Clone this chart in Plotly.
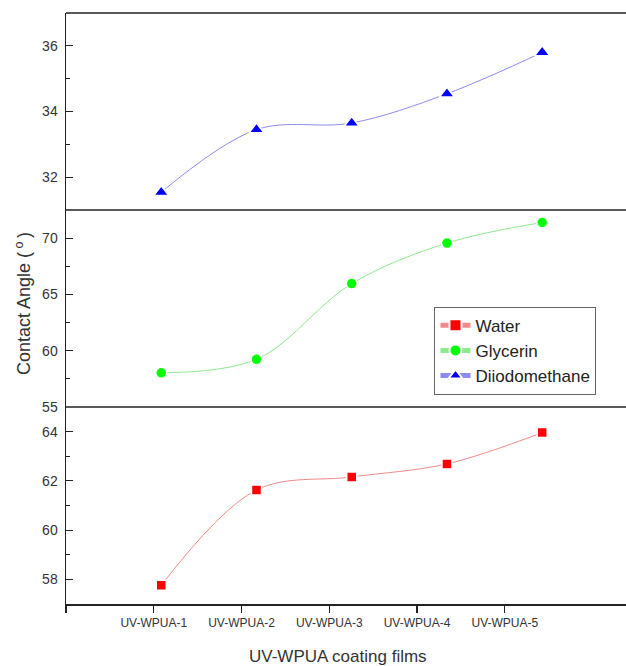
import plotly.graph_objects as go

categories = ["UV-WPUA-1", "UV-WPUA-2", "UV-WPUA-3", "UV-WPUA-4", "UV-WPUA-5"]
sample_index = [1, 2, 3, 4, 5]
water = [57.76, 61.63, 62.16, 62.69, 63.96]
glycerin = [58.04, 59.24, 65.96, 69.56, 71.39]
diiodomethane = [31.54, 33.45, 33.65, 34.54, 35.80]

# tick labels in the source are placed on a slightly compressed scale
tick_scale = 0.9215
tickvals = [0] + [i * tick_scale for i in sample_index]
ticktext = [" "] + categories

FONT = "Liberation Sans, Arial, sans-serif"
TXT = "#333333"

fig = go.Figure()
common_marker_line = dict(color="white", width=1.5)
fig.add_trace(go.Scatter(x=sample_index, y=water, name="Water", yaxis="y",
                         mode="lines+markers", line=dict(color="#F08A8A", width=1, shape="spline"),
                         marker=dict(symbol="square", size=10, color="#FF0000", line=common_marker_line)))
fig.add_trace(go.Scatter(x=sample_index, y=glycerin, name="Glycerin", yaxis="y2",
                         mode="lines+markers", line=dict(color="#8FE88F", width=1, shape="spline"),
                         marker=dict(symbol="circle", size=11, color="#00FF00", line=common_marker_line)))
fig.add_trace(go.Scatter(x=sample_index, y=diiodomethane, name="Diiodomethane", yaxis="y3",
                         mode="lines+markers", line=dict(color="#8C8CF0", width=1, shape="spline"),
                         marker=dict(symbol="triangle-up", size=13, color="#0000FF", line=common_marker_line)))

def yax(domain, rng, dtick, minor_dtick):
    return dict(domain=domain, range=rng, dtick=dtick, tick0=0, ticks="inside", ticklen=7,
                tickwidth=1.2, tickcolor="#222", showgrid=False, zeroline=False,
                showline=True, mirror=False, linecolor="#222", linewidth=1.5,
                ticklabelstandoff=4,
                tickfont=dict(family=FONT, size=14, color=TXT),
                minor=dict(dtick=minor_dtick, tick0=0, ticks="inside", ticklen=4, tickcolor="#222"),
                anchor="x", side="left", fixedrange=True)

fig.update_layout(
    width=626, height=666,
    margin=dict(l=66, r=0, t=13, b=62),
    paper_bgcolor="white", plot_bgcolor="white",
    font=dict(family=FONT, color=TXT),
    dragmode=False,
    xaxis=dict(range=[0, 5.88], tickvals=tickvals, ticktext=ticktext, ticks="outside",
               ticklen=7, tickwidth=1.2, tickcolor="#222", showgrid=False, zeroline=False,
               showline=True, mirror=False, linecolor="#222", linewidth=1.5, fixedrange=True,
               tickfont=dict(family=FONT, size=12, color=TXT)),
    yaxis=yax([0, 1/3], [57, 65], 2, 1),
    yaxis2=yax([1/3, 2/3], [55, 72.5], 5, 2.5),
    yaxis3=yax([2/3, 1], [31, 37], 2, 1),
    showlegend=True,
    legend=dict(x=0.658, y=0.503, xanchor="left", yanchor="top",
                bgcolor="white", bordercolor="#666", borderwidth=1,
                font=dict(family=FONT, size=17, color="#222"),
                tracegroupgap=0, itemsizing="constant"),
    shapes=[
        dict(type="line", xref="paper", yref="paper", x0=0, x1=1, y0=1/3, y1=1/3,
             line=dict(color="#222", width=1.5)),
        dict(type="line", xref="paper", yref="paper", x0=0, x1=1, y0=2/3, y1=2/3,
             line=dict(color="#222", width=1.5)),
        dict(type="line", xref="paper", yref="paper", x0=0, x1=1, y0=1, y1=1,
             line=dict(color="#222", width=1.5)),
    ],
    annotations=[
        dict(text="Contact Angle (<sup> o </sup>)", xref="paper", yref="paper", x=-0.077, y=0.509,
             xanchor="center", yanchor="middle", textangle=-90, showarrow=False,
             font=dict(family=FONT, size=18, color=TXT)),
        dict(text="UV-WPUA coating films", xref="paper", yref="paper", x=0.486, y=-0.089,
             xanchor="center", yanchor="middle", showarrow=False,
             font=dict(family=FONT, size=17, color=TXT)),
    ],
)

fig.write_html("out.html", config={"staticPlot": True, "displayModeBar": False})
